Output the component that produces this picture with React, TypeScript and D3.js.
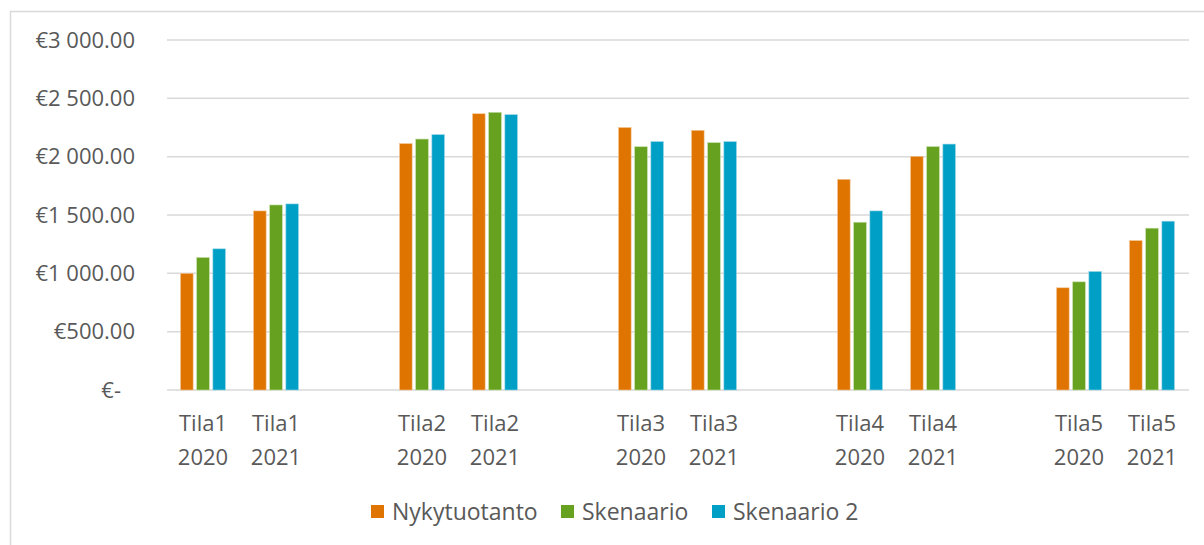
import React from "react";
import * as d3 from "d3";

const categories = [
  "Tila1 2020", "Tila1 2021", "",
  "Tila2 2020", "Tila2 2021", "",
  "Tila3 2020", "Tila3 2021", "",
  "Tila4 2020", "Tila4 2021", "",
  "Tila5 2020", "Tila5 2021",
];

const seriesNames = ["Nykytuotanto", "Skenaario", "Skenaario 2"];
const nykytuotanto = [1000, 1535, null, 2112, 2368, null, 2250, 2226, null, 1806, 2003, null, 876, 1281];
const skenaario = [1136, 1586, null, 2151, 2380, null, 2085, 2120, null, 1438, 2086, null, 927, 1387];
const skenaario2 = [1210, 1595, null, 2189, 2360, null, 2129, 2129, null, 1535, 2108, null, 1016, 1447];
const seriesValues = [nykytuotanto, skenaario, skenaario2];
const seriesColors = ["#E07400", "#66A11F", "#00A0C6"];
const seriesStrokes = ["#F2C79A", "#C4DDA8", "#9ED6E6"];
const yTicks = [0, 500, 1000, 1500, 2000, 2500, 3000];

const W = 1204;
const H = 545;
const FONT = "'Open Sans', 'Noto Sans', sans-serif";
const TEXT = "#595959";
const FS = 22;
const LEGEND_FS = 23;

export default function App() {
  const x0 = d3.scaleBand<number>()
    .domain(categories.map((_, i) => i))
    .range([166.5, 1188.5])
    .paddingInner(0)
    .paddingOuter(0);
  const groupW = x0.bandwidth() * 0.616;
  const x1 = d3.scaleBand<string>()
    .domain(seriesNames)
    .range([0, groupW])
    .paddingInner(0.22)
    .paddingOuter(0);
  const y = d3.scaleLinear().domain([0, 3000]).range([390, 40]);

  const fmt = (v: number) =>
    v === 0 ? "€-" : "€" + d3.format(",.2f")(v).replace(/,/g, " ");

  const legendItems = [
    { x: 371, tx: 392 },
    { x: 561, tx: 582 },
    { x: 712, tx: 733 },
  ];

  return (
    <svg
      width={W}
      height={H}
      style={{ position: "absolute", left: 0, top: 0, background: "#fff" }}
    >
      <rect x={10.5} y={11.5} width={1210} height={560} fill="#fff" stroke="#D9D9D9" strokeWidth={1.5} />
      {yTicks.map((t) => (
        <g key={t}>
          <line
            x1={167}
            x2={1189}
            y1={y(t)}
            y2={y(t)}
            stroke="#D9D9D9"
            strokeWidth={1.5}
          />
          <text
            x={t === 0 ? 121 : 135}
            y={y(t)}
            dy="0.35em"
            textAnchor="end"
            fontFamily={FONT}
            fontSize={FS}
            fill={TEXT}
          >
            {fmt(t)}
          </text>
        </g>
      ))}
      {seriesValues.map((vals, si) =>
        vals.map((v, ci) =>
          v == null ? null : (
            <rect
              key={si + "-" + ci}
              x={(x0(ci) as number) + (x0.bandwidth() - groupW) / 2 + (x1(seriesNames[si]) as number)}
              y={y(v)}
              width={x1.bandwidth()}
              height={y(0) - y(v)}
              fill={seriesColors[si]}
              stroke={seriesStrokes[si]}
              strokeWidth={0.6}
            />
          )
        )
      )}
      {categories.map((c, i) => {
        if (!c) return null;
        const [a, b] = c.split(" ");
        const cx = (x0(i) as number) + x0.bandwidth() / 2;
        return (
          <text
            key={i}
            x={cx}
            textAnchor="middle"
            fontFamily={FONT}
            fontSize={FS}
            fill={TEXT}
          >
            <tspan x={cx} y={431}>{a}</tspan>
            <tspan x={cx} y={465}>{b}</tspan>
          </text>
        );
      })}
      {seriesNames.map((s, i) => (
        <g key={s}>
          <rect x={legendItems[i].x} y={505} width={13} height={13} fill={seriesColors[i]} />
          <text
            x={legendItems[i].tx}
            y={511.5}
            dy="0.35em"
            fontFamily={FONT}
            fontSize={LEGEND_FS}
            fill={TEXT}
          >
            {s}
          </text>
        </g>
      ))}
    </svg>
  );
}
